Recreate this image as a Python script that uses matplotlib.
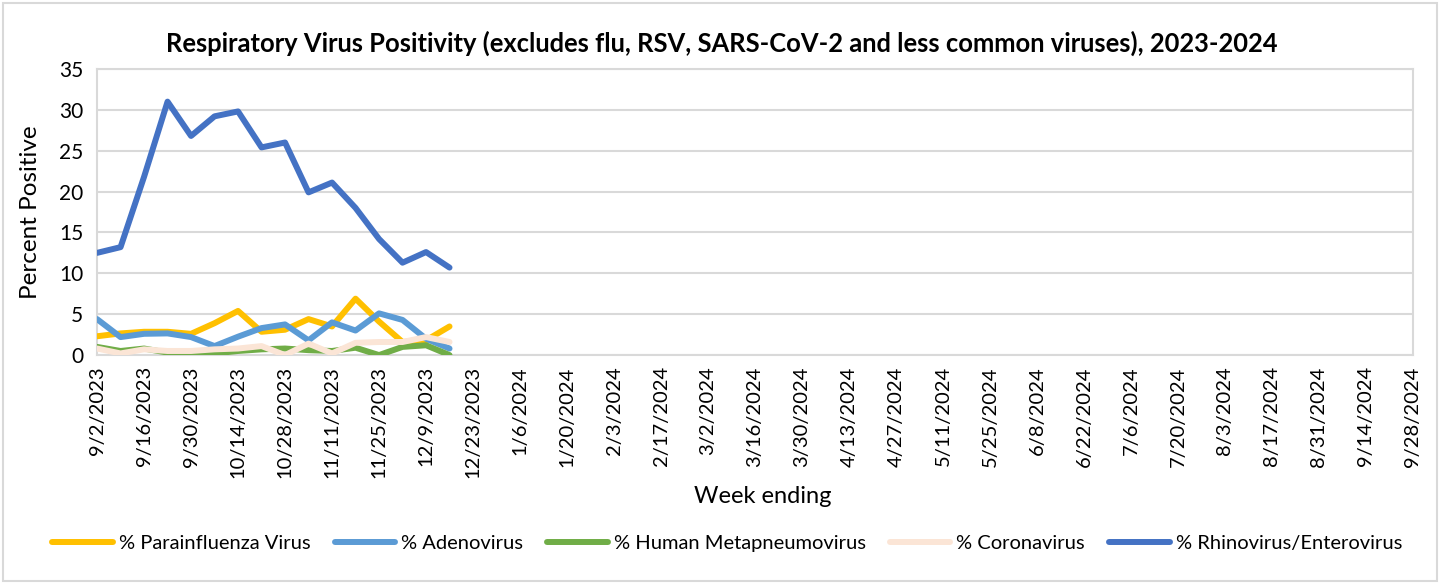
import matplotlib
matplotlib.use('Agg')
import matplotlib.pyplot as plt
import matplotlib.patches as patches
import pandas as pd
import numpy as np

plt.rcParams['font.family'] = ['Lato', 'DejaVu Sans']

# week ending dates for the season (axis categories)
weeks = pd.date_range('2023-09-02', '2024-09-28', freq='7D')
week_labels = [f'{d.month}/{d.day}/{d.year}' for d in weeks]

# values (first 16 weeks reported)
parainfluenza = [2.3, 2.65, 2.85, 2.85, 2.6, 3.9, 5.4, 2.85, 3.1, 4.4, 3.5, 6.9, 4.1, 1.6, 1.8, 3.5]
adenovirus = [4.4, 2.2, 2.6, 2.65, 2.2, 1.1, 2.25, 3.3, 3.75, 1.8, 4.0, 3.0, 5.1, 4.3, 2.0, 0.8]
hmpv = [1.0, 0.5, 0.8, 0.3, 0.0, 0.2, 0.5, 0.7, 0.8, 0.6, 0.5, 0.9, 0.0, 1.0, 1.2, 0.0]
coronavirus = [0.8, 0.2, 0.7, 0.5, 0.5, 0.7, 0.8, 1.1, 0.0, 1.4, 0.2, 1.5, 1.6, 1.6, 2.2, 1.6]
rhino_entero = [12.5, 13.2, 21.8, 31.0, 26.8, 29.2, 29.8, 25.4, 26.0, 19.9, 21.1, 18.0, 14.2, 11.3, 12.6, 10.7]

series = [
    ('% Parainfluenza Virus', parainfluenza, '#FFC000'),
    ('% Adenovirus', adenovirus, '#5B9BD5'),
    ('% Human Metapneumovirus', hmpv, '#70AD47'),
    ('% Coronavirus', coronavirus, '#FBE5D6'),
    ('% Rhinovirus/Enterovirus', rhino_entero, '#4472C4'),
]

fig = plt.figure(figsize=(14.4, 5.84), dpi=100)
ax = fig.add_axes([0.0674, 0.392, 0.9138, 0.49])

for i, (name, vals, col) in enumerate(series):
    ax.plot(np.arange(len(vals)), vals, color=col, lw=4.3, label=name,
            solid_capstyle='round', solid_joinstyle='round', zorder=3 + i)

ax.set_xlim(0, len(weeks) - 1)
ax.set_ylim(0, 35)
ax.set_yticks(range(0, 36, 5))
ax.set_xticks(np.arange(0, len(weeks), 2))
ax.set_xticklabels(week_labels[::2], rotation=90, fontsize=14.5)
ax.tick_params(axis='y', labelsize=15, length=0, pad=10)
ax.tick_params(axis='x', length=0, pad=8)
ax.grid(axis='y', color='#D9D9D9', lw=1.5)
ax.set_axisbelow(True)
for s in ax.spines.values():
    s.set_color('#D9D9D9')
    s.set_linewidth(1.5)

fig.text(0.501, 0.926,
         'Respiratory Virus Positivity (excludes flu, RSV, SARS-CoV-2 and less common viruses), 2023-2024',
         ha='center', va='center', fontsize=18.4, fontweight='bold')
fig.text(0.021, 0.637, 'Percent Positive', rotation=90, ha='center', va='center', fontsize=17.5)
fig.text(0.53, 0.149, 'Week ending', ha='center', va='center', fontsize=17)

fig.legend(loc='center', bbox_to_anchor=(0.505, 0.07), ncol=5, frameon=False,
           fontsize=14.5, handlelength=3.0, columnspacing=1.2, handletextpad=0.3)

fig.patches.append(patches.Rectangle((0.002, 0.005), 0.996, 0.99, transform=fig.transFigure,
                                     fill=False, edgecolor='#D9D9D9', lw=1.5))

fig.savefig('out.png', dpi=100)
